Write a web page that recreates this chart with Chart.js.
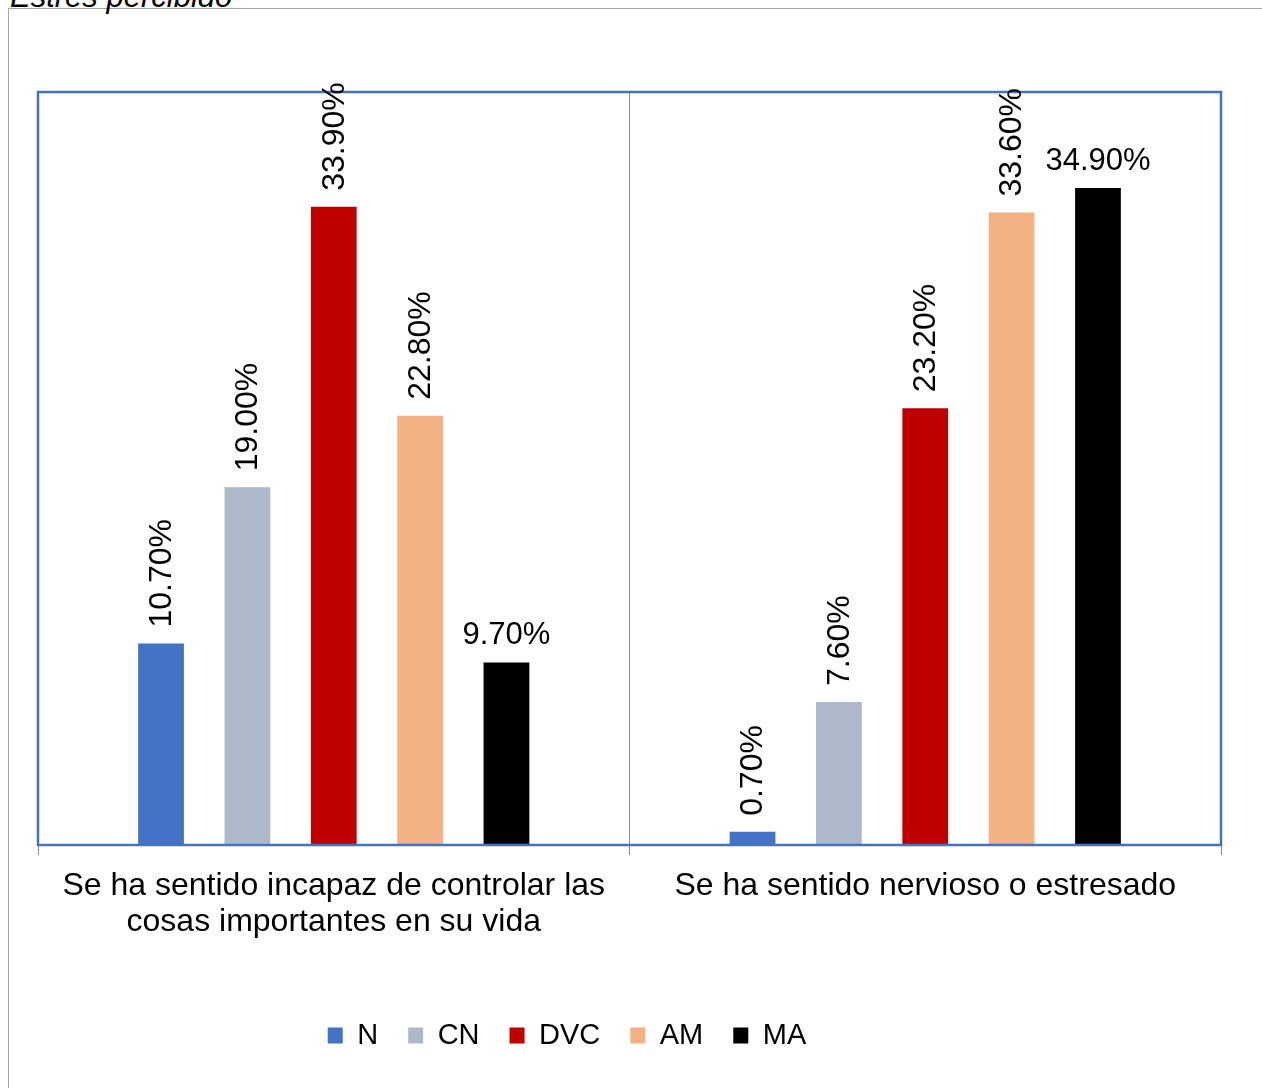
<!DOCTYPE html>
<html>
<head>
<meta charset="utf-8">
<script src="https://cdn.jsdelivr.net/npm/chart.js@4.4.1/dist/chart.umd.min.js"></script>
<style>
  html, body { margin: 0; padding: 0; background: #fff; overflow: hidden; }
  body { width: 1262px; height: 1088px; position: relative; }
  #frame { position: absolute; left: 8px; top: 8px; width: 1400px; height: 1200px;
           border: 1px solid #a6a6a6; box-sizing: border-box; }
  #caption { position: absolute; left: 10px; top: -21px; white-space: nowrap; line-height: 1;
             font: italic 31px 'Liberation Sans', Arial, sans-serif; color: #000; }
  #chart { position: absolute; left: 0; top: 0; }
</style>
</head>
<body>
<div id="frame"></div>
<div id="caption">Estrés percibido</div>
<canvas id="chart" width="1262" height="1088"></canvas>
<script>
// Survey items (x categories)
const categories = [
  ["Se ha sentido incapaz de controlar las", "cosas importantes en su vida"],
  "Se ha sentido nervioso o estresado"
];
// Answer options
const seriesNames = ["N", "CN", "DVC", "AM", "MA"];
// Percentage of answers per option, one value per item
const valuesN   = [10.7, 0.7];
const valuesCN  = [19.0, 7.6];
const valuesDVC = [33.9, 23.2];
const valuesAM  = [22.8, 33.6];
const valuesMA  = [9.7, 34.9];
const yMax = 40;

const seriesValues = [valuesN, valuesCN, valuesDVC, valuesAM, valuesMA];
const seriesColors = ["#4472C4", "#ADB9CA", "#C00000", "#F4B183", "#000000"];
// MA values are written horizontally, the rest run upwards
const horizontalLabels = [false, false, false, false, true];

const FONT = "'Liberation Sans', Arial, sans-serif";

// Blue frame around the plot area plus the value labels above each bar
const plotDecor = {
  id: 'plotDecor',
  afterDatasetsDraw(chart) {
    const { ctx, chartArea: a } = chart;
    ctx.save();
    ctx.strokeStyle = '#4472C4';
    ctx.lineWidth = 2.5;
    ctx.strokeRect(a.left, a.top, a.right - a.left, a.bottom - a.top);

    ctx.fillStyle = '#000';
    chart.data.datasets.forEach((ds, i) => {
      const meta = chart.getDatasetMeta(i);
      meta.data.forEach((bar, j) => {
        const text = ds.data[j].toFixed(2) + '%';
        if (horizontalLabels[i]) {
          ctx.font = "31px " + FONT;
          ctx.textAlign = 'center';
          ctx.textBaseline = 'alphabetic';
          ctx.fillText(text, bar.x, bar.y - 18);
        } else {
          ctx.font = "32px " + FONT;
          ctx.save();
          ctx.translate(bar.x + 1, bar.y - 16);
          ctx.rotate(-Math.PI / 2);
          ctx.textAlign = 'left';
          ctx.textBaseline = 'middle';
          ctx.fillText(text, 0, 0);
          ctx.restore();
        }
      });
    });
    ctx.restore();
  }
};

// Legend sits left of centre under the plot
const legendShift = {
  id: 'legendShift',
  afterLayout(chart) {
    const lg = chart.legend;
    if (!lg) return;
    const dx = 567 - (lg.left + lg.right) / 2;
    lg.left += dx;
    lg.right += dx;
  }
};

new Chart(document.getElementById('chart'), {
  type: 'bar',
  data: {
    labels: categories,
    datasets: seriesNames.map((name, i) => ({
      label: name,
      data: seriesValues[i],
      backgroundColor: seriesColors[i],
      borderWidth: 0,
      barPercentage: 0.53,
      categoryPercentage: 0.73
    }))
  },
  options: {
    responsive: false,
    animation: false,
    devicePixelRatio: 1,
    layout: { padding: { top: 92, left: 38, right: 41, bottom: 28 } },
    scales: {
      x: {
        grid: { offset: true, color: '#8c8c8c', lineWidth: 1, tickLength: 10, drawOnChartArea: true },
        border: { display: false },
        ticks: { color: '#000', padding: 13, font: { family: FONT, size: 32, lineHeight: 1.13 } },
        afterFit(scale) { scale.height = 146; }
      },
      y: { display: false, min: 0, max: yMax }
    },
    plugins: {
      legend: {
        position: 'bottom',
        labels: {
          color: '#000',
          boxWidth: 15,
          boxHeight: 16,
          padding: 30,
          font: { family: FONT, size: 29 }
        }
      },
      tooltip: { enabled: false }
    }
  },
  plugins: [plotDecor, legendShift]
});
</script>
</body>
</html>
